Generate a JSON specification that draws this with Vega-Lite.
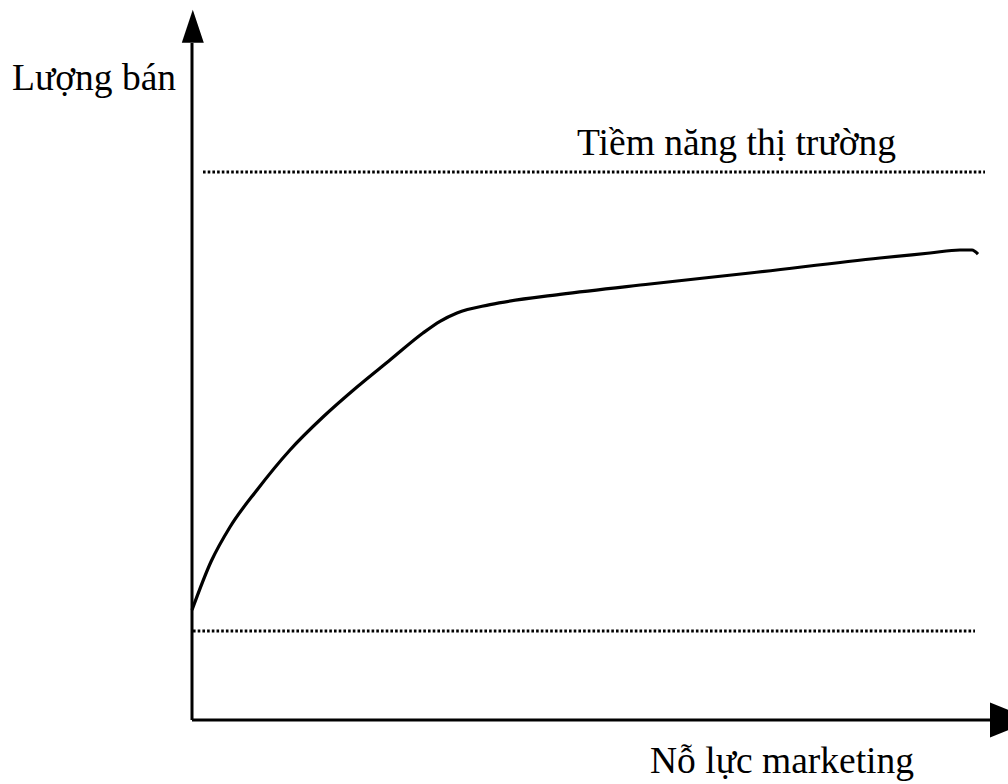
{
  "$schema": "https://vega.github.io/schema/vega-lite/v6.json",
  "width": 1008,
  "height": 784,
  "padding": 0,
  "autosize": {"type": "none"},
  "background": "white",
  "config": {"view": {"stroke": null}},
  "datasets": {
    "curve": [
      {"effort": 0, "sales": 17.19},
      {"effort": 2.4, "sales": 24.8},
      {"effort": 4.75, "sales": 30.16},
      {"effort": 8.125, "sales": 35.94},
      {"effort": 12.25, "sales": 42.19},
      {"effort": 16.375, "sales": 47.34},
      {"effort": 20.625, "sales": 52.03},
      {"effort": 24.75, "sales": 56.25},
      {"effort": 28.875, "sales": 60.47},
      {"effort": 31, "sales": 62.3},
      {"effort": 33.125, "sales": 63.6},
      {"effort": 37.25, "sales": 64.9},
      {"effort": 46, "sales": 66.5},
      {"effort": 57.25, "sales": 68.13},
      {"effort": 69.75, "sales": 69.84},
      {"effort": 86, "sales": 72.19},
      {"effort": 92.25, "sales": 72.97},
      {"effort": 96, "sales": 73.44},
      {"effort": 97.5, "sales": 73.44},
      {"effort": 98.25, "sales": 72.81}
    ],
    "levels": [
      {"name": "Tiềm năng thị trường", "x": 1.375, "x2": 99.125, "y": 85.625},
      {"name": "Mức tối thiểu", "x": 0.125, "x2": 97.875, "y": 13.9}
    ],
    "axes": [
      {"axis": "y", "x": 0, "x2": 0, "y": 0, "y2": 105.8},
      {"axis": "x", "x": 0, "x2": 99.75, "y": 0, "y2": 0}
    ],
    "arrowUp": [{"x": 0.1, "y": 108.4}],
    "arrowRight": [{"x": 102.5, "y": 0}],
    "labels": [
      {"text": "Lượng bán", "x": -22.5, "y": 98.44},
      {"text": "Tiềm năng thị trường", "x": 48.125, "y": 88.28},
      {"text": "Nỗ lực marketing", "x": 57.25, "y": -8.28}
    ]
  },
  "layer": [
    {
      "data": {"name": "levels"},
      "mark": {"type": "rule", "color": "black", "strokeWidth": 3, "strokeDash": [2.6, 2.1]},
      "encoding": {
        "x": {"field": "x", "type": "quantitative", "scale": {"domain": [-24, 102], "nice": false, "zero": false}, "axis": null},
        "x2": {"field": "x2"},
        "y": {"field": "y", "type": "quantitative", "scale": {"domain": [-10, 112.5], "nice": false, "zero": false}, "axis": null}
      }
    },
    {
      "data": {"name": "axes"},
      "mark": {"type": "rule", "color": "black", "strokeWidth": 3},
      "encoding": {
        "x": {"field": "x", "type": "quantitative", "axis": null},
        "x2": {"field": "x2"},
        "y": {"field": "y", "type": "quantitative", "axis": null},
        "y2": {"field": "y2"}
      }
    },
    {
      "data": {"name": "curve"},
      "mark": {"type": "line", "color": "black", "strokeWidth": 3.2, "interpolate": "monotone"},
      "encoding": {
        "x": {"field": "effort", "type": "quantitative", "axis": null},
        "y": {"field": "sales", "type": "quantitative", "axis": null}
      }
    },
    {
      "data": {"name": "arrowUp"},
      "mark": {"type": "point", "shape": "M0,-1L0.667,1L-0.667,1Z", "filled": true, "color": "black", "opacity": 1, "size": 1089, "strokeWidth": 0},
      "encoding": {
        "x": {"field": "x", "type": "quantitative", "axis": null},
        "y": {"field": "y", "type": "quantitative", "axis": null}
      }
    },
    {
      "data": {"name": "arrowRight"},
      "mark": {"type": "point", "shape": "M1,0L-1,0.795L-1,-0.795Z", "filled": true, "color": "black", "opacity": 1, "size": 1936, "strokeWidth": 0, "clip": false},
      "encoding": {
        "x": {"field": "x", "type": "quantitative", "axis": null},
        "y": {"field": "y", "type": "quantitative", "axis": null}
      }
    },
    {
      "data": {"name": "labels"},
      "mark": {"type": "text", "font": "Liberation Serif", "fontSize": 37.5, "align": "left", "baseline": "alphabetic", "color": "black"},
      "encoding": {
        "x": {"field": "x", "type": "quantitative", "axis": null},
        "y": {"field": "y", "type": "quantitative", "axis": null},
        "text": {"field": "text"}
      }
    }
  ]
}
